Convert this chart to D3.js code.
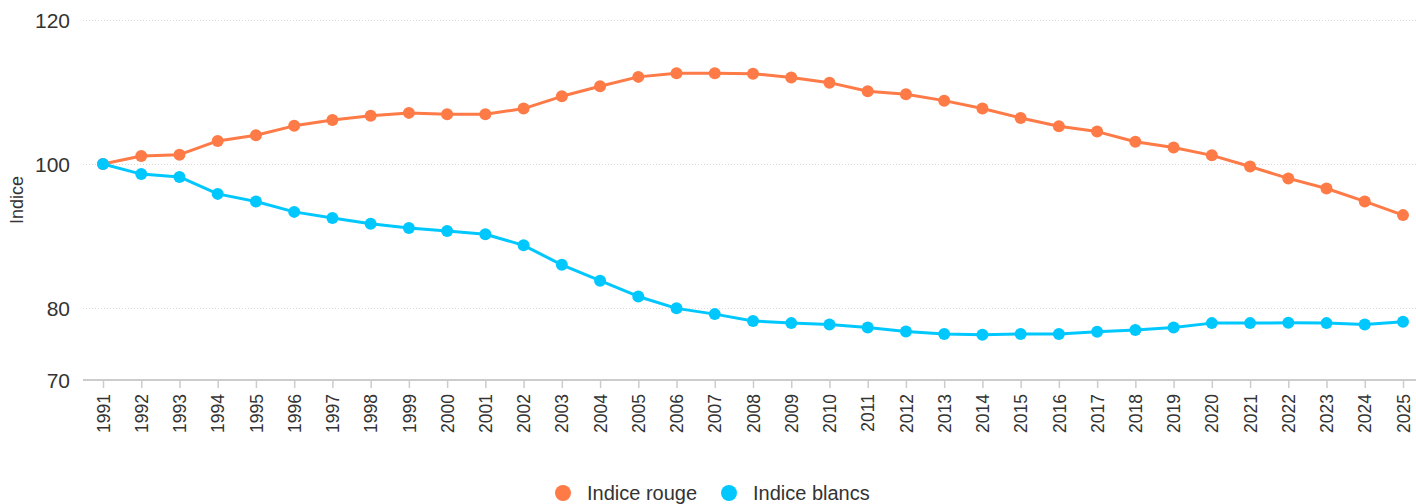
<!DOCTYPE html>
<html>
<head>
<meta charset="utf-8">
<script src="https://cdn.jsdelivr.net/npm/d3@7"></script>
<style>
  body { margin: 0; background: #fff; }
  svg { font-family: "Liberation Sans", Arial, sans-serif; }
</style>
</head>
<body>
<svg id="chart"></svg>
<script>
var years = [1991, 1992, 1993, 1994, 1995, 1996, 1997, 1998, 1999, 2000,
             2001, 2002, 2003, 2004, 2005, 2006, 2007, 2008, 2009, 2010,
             2011, 2012, 2013, 2014, 2015, 2016, 2017, 2018, 2019, 2020,
             2021, 2022, 2023, 2024, 2025];
var rouge = [100, 101.1, 101.3, 103.2, 104.0, 105.3, 106.1, 106.7, 107.1, 106.9,
             106.9, 107.7, 109.4, 110.8, 112.1, 112.6, 112.6, 112.55, 112.0, 111.3,
             110.1, 109.7, 108.8, 107.7, 106.4, 105.25, 104.5, 103.1, 102.3, 101.2,
             99.65, 98.0, 96.6, 94.8, 92.9];
var blancs = [100, 98.6, 98.2, 95.85, 94.8, 93.35, 92.5, 91.7, 91.1, 90.7,
              90.25, 88.7, 86.0, 83.8, 81.6, 79.95, 79.15, 78.2, 77.9, 77.7,
              77.3, 76.75, 76.4, 76.3, 76.4, 76.4, 76.7, 76.95, 77.3, 77.9,
              77.9, 77.95, 77.9, 77.7, 78.1];
var yTicks = [70, 80, 100, 120];
var seriesNames = ["Indice rouge", "Indice blancs"];
var seriesColors = ["#fe7a46", "#00c8ff"];

var w = 1416, h = 504;
var plotLeft = 83, plotRight = 1416, plotTop = 20, plotBottom = 380;

var svg = d3.select("#chart").attr("width", w).attr("height", h);

var x = d3.scaleLinear().domain([1991, 2025]).range([103, 1403]);
var y = d3.scaleLinear().domain([70, 120]).range([plotBottom, plotTop]);

// grid lines
svg.selectAll(".grid")
    .data(yTicks.filter(function(d) { return d > 70 }))
    .enter()
    .append("line")
    .attr("x1", plotLeft)
    .attr("x2", plotRight)
    .attr("y1", function(d) { return y(d) + 0.5 })
    .attr("y2", function(d) { return y(d) + 0.5 })
    .attr("stroke", "#d8d8d8")
    .attr("stroke-width", 1)
    .attr("stroke-dasharray", "1,2");

// y labels
svg.selectAll(".ylab")
    .data(yTicks)
    .enter()
    .append("text")
    .attr("x", 70)
    .attr("y", function(d) { return y(d) })
    .attr("dy", "0.36em")
    .attr("text-anchor", "end")
    .attr("font-size", 21)
    .attr("fill", "#333")
    .text(function(d) { return d });

// axis title
svg.append("text")
    .attr("transform", "translate(23,200) rotate(-90)")
    .attr("text-anchor", "middle")
    .attr("font-size", 18)
    .attr("fill", "#333")
    .text("Indice");

// x axis
var xAxis = d3.axisBottom(x)
    .tickValues(years)
    .tickFormat(d3.format("d"))
    .tickSize(8)
    .tickSizeOuter(0);

var gx = svg.append("g")
    .attr("transform", "translate(0," + plotBottom + ")")
    .call(xAxis);
gx.select(".domain").remove();
gx.append("line")
    .attr("x1", plotLeft).attr("x2", plotRight)
    .attr("y1", 0).attr("y2", 0)
    .attr("stroke", "#ccc").attr("stroke-width", 2);
gx.selectAll(".tick line").attr("stroke", "#ccc").attr("stroke-width", 1.5);
gx.selectAll(".tick text")
    .attr("font-size", 17.5)
    .attr("font-family", "Liberation Sans, Arial, sans-serif")
    .attr("fill", "#333")
    .attr("transform", "rotate(-90)")
    .attr("text-anchor", "end")
    .attr("x", -14)
    .attr("y", 0)
    .attr("dy", "0.35em");

// lines and markers
var data = [rouge, blancs];
var line = d3.line()
    .x(function(d, i) { return x(years[i]) })
    .y(function(d) { return y(d) });

data.forEach(function(vals, k) {
    svg.append("path")
        .datum(vals)
        .attr("d", line)
        .attr("fill", "none")
        .attr("stroke", seriesColors[k])
        .attr("stroke-width", 3)
        .attr("stroke-linejoin", "round");
    svg.selectAll(".pt" + k)
        .data(vals)
        .enter()
        .append("circle")
        .attr("cx", function(d, i) { return x(years[i]) })
        .attr("cy", function(d) { return y(d) })
        .attr("r", 6)
        .attr("fill", seriesColors[k]);
});

// legend
var legendX = [563, 729];
var lg = svg.selectAll(".leg")
    .data(seriesNames)
    .enter()
    .append("g")
    .attr("transform", function(d, i) { return "translate(" + legendX[i] + ",493)" });
lg.append("circle")
    .attr("r", 8)
    .attr("fill", function(d, i) { return seriesColors[i] });
lg.append("text")
    .attr("x", 24)
    .attr("dy", "0.36em")
    .attr("font-size", 20)
    .attr("fill", "#333")
    .text(function(d) { return d });
</script>
</body>
</html>
